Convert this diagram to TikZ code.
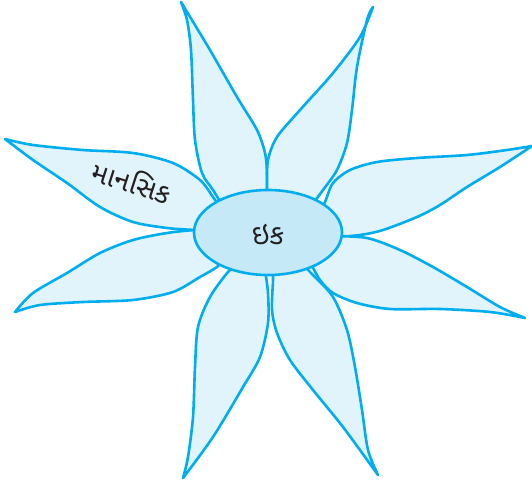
\documentclass[tikz,border=0pt]{standalone}
\usepackage{fontspec}
\usetikzlibrary{shapes.geometric}
\newfontfamily\gujfont[Script=Gujarati]{Noto Sans Gujarati UI}
\definecolor{petalline}{HTML}{00AEEF}
\definecolor{petalfill}{HTML}{E1F3FB}
\definecolor{centerfill}{HTML}{C6E9F8}
\definecolor{inktext}{HTML}{231F20}
\begin{document}
\begin{tikzpicture}[x=1pt,y=-1pt,
  petal/.style={draw=petalline,fill=petalfill,line width=2.6pt,line join=round},
  centre/.style={ellipse,draw=petalline,fill=centerfill,line width=2.6pt,minimum width=148pt,minimum height=85pt,inner sep=0pt},
  lab/.style={text=inktext,font=\gujfont\fontsize{28}{32}\selectfont}]
\useasboundingbox (0,0) rectangle (532,486);
% petal 1 (top-left)
\filldraw[petal] plot[smooth] coordinates {(228,215) (213,190) (202,173) (195,140) (193,100) (191,50) (187,20) (181,2)}
  -- plot[smooth] coordinates {(181,2) (210,50) (237,97) (257,130) (265,153) (267,173) (267,200)} -- (250,220) -- cycle;
% petal 2 (top-right)
\filldraw[petal] plot[smooth] coordinates {(268,205) (267,187) (268,160) (277,137) (300,110) (333,73) (360,37) (373,7)}
  -- plot[smooth] coordinates {(373,7) (367,20) (357,67) (352,110) (347,143) (337,170) (323,190) (312,205)} -- (290,220) -- cycle;
% petal 3 (right-upper)
\filldraw[petal] plot[smooth] coordinates {(318,215) (325,202) (333,183) (350,170) (377,162) (417,158) (467,155) (507,150) (532,146)}
  -- plot[smooth] coordinates {(532,146) (500,167) (467,187) (440,205) (417,217) (383,230) (360,235) (335,237)} -- (310,230) -- cycle;
% petal 4 (right-lower)
\filldraw[petal] plot[smooth] coordinates {(330,236) (367,238) (400,250) (433,267) (467,287) (500,307) (525,318)}
  -- plot[smooth] coordinates {(525,318) (490,312) (440,309) (390,309) (357,303) (333,293) (320,280) (310,262)} -- (300,240) -- cycle;
% petal 5 (bottom-right)
\filldraw[petal] plot[smooth] coordinates {(273,265) (273,280) (272,310) (277,333) (290,360) (313,390) (343,427) (378,475)}
  -- plot[smooth] coordinates {(378,475) (368,450) (362,410) (355,367) (347,330) (333,297) (313,275) (300,262)} -- (285,250) -- cycle;
% petal 6 (bottom-left)
\filldraw[petal] plot[smooth] coordinates {(240,262) (228,272) (210,297) (198,327) (195,367) (193,417) (188,457) (183,478)}
  -- plot[smooth] coordinates {(183,478) (213,437) (243,387) (260,357) (268,323) (268,293) (265,270)} -- (255,250) -- cycle;
% petal 7 (left-lower)
\filldraw[petal] plot[smooth] coordinates {(205,230) (194,230) (167,233) (133,240) (100,253) (67,273) (33,293) (15,312)}
  -- plot[smooth] coordinates {(15,312) (40,305) (83,302) (133,300) (173,292) (200,277) (217,267) (225,258)} -- (230,240) -- cycle;
% petal 8 (left-upper)
\filldraw[petal] plot[smooth] coordinates {(5,139) (33,145) (83,150) (133,153) (173,163) (200,180) (213,197) (222,210)}
  -- (225,225) -- plot[smooth] coordinates {(205,231) (194,230) (167,228) (133,222) (100,207) (67,183) (33,160) (5,139)} -- cycle;
% centre
\node[centre] (core) at (268,232.5) {};
\node[lab] (coretext) at (268,234) {ઇક};
\node[lab,rotate=-18] (mansik) at (132,181) {માનસિક};
\end{tikzpicture}
\end{document}
